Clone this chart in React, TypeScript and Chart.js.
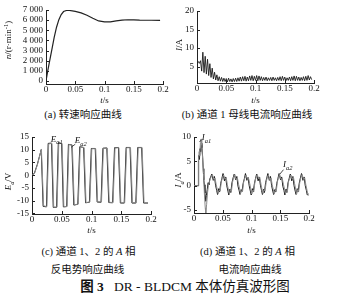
import React, { useEffect, useRef } from 'react';
import { Chart, registerables } from 'chart.js';

Chart.register(...registerables);

const SERIF = '"Liberation Serif", "DejaVu Serif", serif';
const CJK = '"Liberation Serif", "Noto Sans CJK SC", serif';

// ---------- shared x axis ----------
const X_TICKS = [0, 0.05, 0.1, 0.15, 0.2];
const X_TICK_LABELS = ['0', '0.05', '0.1', '0.15', '0.2'];

// ---------- (a) speed ----------
const A_Y_TICKS = [0, 1000, 2000, 3000, 4000, 5000, 6000, 7000];
const A_Y_LABELS = ['0', '1 000', '2 000', '3 000', '4 000', '5 000', '6 000', '7 000'];
const A_T = [0, 0.003, 0.006, 0.01, 0.014, 0.018, 0.022, 0.026, 0.03, 0.035, 0.04, 0.045, 0.05, 0.06, 0.07, 0.08, 0.09, 0.1, 0.11, 0.12, 0.13, 0.14, 0.15, 0.16, 0.18, 0.195];
const A_N = [0, 1000, 1900, 3100, 4300, 5300, 6050, 6550, 6850, 6950, 6950, 6920, 6870, 6720, 6480, 6180, 5920, 5820, 5830, 5930, 6010, 6040, 6020, 6000, 5990, 5980];

// ---------- (b) bus current, channel 1 ----------
const B_Y_TICKS = [5, 10, 15, 20];
const B_Y_LABELS = ['5', '10', '15', '20'];
const B_T = [0, 0.002, 0.004, 0.006, 0.008, 0.01, 0.012, 0.014, 0.016, 0.018, 0.02, 0.022, 0.024, 0.026, 0.028, 0.03, 0.032, 0.034, 0.036, 0.038, 0.04, 0.042, 0.044, 0.046, 0.048, 0.05, 0.052, 0.054, 0.056, 0.058, 0.06, 0.062, 0.064, 0.066, 0.068, 0.07, 0.072, 0.074, 0.076, 0.078, 0.08, 0.082, 0.084, 0.086, 0.088, 0.09, 0.092, 0.094, 0.096, 0.098, 0.1, 0.102, 0.104, 0.106, 0.108, 0.11, 0.112, 0.114, 0.116, 0.118, 0.12, 0.122, 0.124, 0.126, 0.128, 0.13, 0.132, 0.134, 0.136, 0.138, 0.14, 0.142, 0.144, 0.146, 0.148, 0.15, 0.152, 0.154, 0.156, 0.158, 0.16, 0.162, 0.164, 0.166, 0.168, 0.17, 0.172, 0.174, 0.176, 0.178, 0.18, 0.182, 0.184, 0.186, 0.188, 0.19, 0.192, 0.194, 0.196];
const B_I = [
  6.0, 6.4, 5.9, 6.6, 3.8, 8.9, 3.4, 7.8, 3.0, 7.0,
  2.6, 5.8, 2.1, 4.6, 1.7, 3.5, 1.4, 2.8, 1.2, 2.3,
  1.1, 2.1, 1.0, 1.9, 1.0, 1.8, 0.9, 1.9, 1.0, 1.7,
  0.9, 1.8, 1.0, 1.9, 1.0, 2.0, 1.1, 2.2, 1.1, 2.3,
  1.2, 2.4, 1.1, 2.2, 1.2, 2.5, 1.3, 2.6, 1.2, 2.4,
  1.3, 2.6, 1.2, 2.5, 1.3, 2.3, 1.2, 2.1, 1.3, 2.2,
  1.2, 2.0, 1.3, 2.1, 1.2, 2.2, 1.3, 2.0, 1.2, 2.1,
  1.3, 2.3, 1.2, 2.4, 1.3, 2.2, 1.2, 2.0, 1.3, 2.2,
  1.2, 2.3, 1.3, 2.5, 1.2, 2.4, 1.3, 2.2, 1.2, 2.1,
  1.3, 2.3, 1.2, 2.4, 1.3, 2.6, 1.4, 2.3, 1.5,
];

// ---------- (c) back EMF, phase A, channels 1 and 2 ----------
const C_Y_TICKS = [-15, -10, -5, 0, 5, 10, 15];
const C_Y_LABELS = ['-15', '-10', '-5', '0', '5', '10', '15'];
const EA1_T = [0, 0.004, 0.009, 0.0155, 0.0187, 0.0243, 0.0272, 0.0328, 0.0357, 0.0413, 0.0442, 0.0498, 0.0527, 0.0583, 0.0612, 0.067, 0.0702, 0.077, 0.0802, 0.0868, 0.09, 0.0965, 0.0997, 0.1063, 0.1095, 0.116, 0.1192, 0.1258, 0.129, 0.1355, 0.1387, 0.1453, 0.1485, 0.155, 0.1582, 0.1648, 0.168, 0.1745, 0.1777, 0.1843, 0.1875, 0.195];
const EA1_V = [0, 0.8, 4.3, 10.0, -12.2, -12.4, 12.5, 12.6, -12.6, -12.6, 12.6, 12.5, -12.4, -12.3, 12.1, 11.9, -11.7, -11.4, 11.2, 10.9, -10.8, -10.6, 10.5, 10.5, -10.5, -10.6, 10.6, 10.7, -10.7, -10.8, 10.8, 10.9, -10.9, -10.9, 10.9, 10.9, -10.9, -10.9, 10.9, 10.9, -10.9, -10.9];
const EA2_T = [0, 0.004, 0.009, 0.0158, 0.0195, 0.0251, 0.028, 0.0336, 0.0365, 0.0421, 0.045, 0.0506, 0.0535, 0.0591, 0.062, 0.0678, 0.071, 0.0778, 0.081, 0.0876, 0.0908, 0.0973, 0.1005, 0.1071, 0.1103, 0.1168, 0.12, 0.1266, 0.1298, 0.1363, 0.1395, 0.1461, 0.1493, 0.1558, 0.159, 0.1656, 0.1688, 0.1753, 0.1785, 0.1851, 0.1883, 0.195];
const EA2_V = [0, 0.6, 4.0, 10.3, -12.0, -12.3, 12.3, 12.5, -12.5, -12.5, 12.5, 12.4, -12.3, -12.2, 12.0, 11.8, -11.6, -11.3, 11.1, 10.8, -10.7, -10.5, 10.4, 10.4, -10.4, -10.5, 10.5, 10.6, -10.6, -10.7, 10.7, 10.8, -10.8, -10.8, 10.8, 10.8, -10.8, -10.8, 10.8, 10.8, -10.8, -10.8];

// ---------- (d) phase A current, channels 1 and 2 ----------
const D_Y_TICKS = [-5, 0, 5, 10];
const D_Y_LABELS = ['-5', '0', '5', '10'];
const IA1_T = [
  0, 0.0075, 0.0076, 0.0085, 0.0095, 0.0105, 0.0115, 0.0128, 0.0138, 0.015, 0.016, 0.017, 0.018, 0.019, 0.0205, 0.0215, 0.023, 0.0245, 0.026, 0.0275, 0.029, 0.031,
  0.0335, 0.0355, 0.0375, 0.0395, 0.041, 0.043, 0.0445, 0.0465, 0.0485, 0.0505,
  0.053, 0.055, 0.057, 0.059, 0.0605, 0.0625, 0.064, 0.066, 0.068, 0.07,
  0.0725, 0.0745, 0.0765, 0.0785, 0.08, 0.082, 0.0835, 0.0855, 0.0875, 0.0895,
  0.092, 0.094, 0.096, 0.098, 0.0995, 0.1015, 0.103, 0.105, 0.107, 0.109,
  0.1115, 0.1135, 0.1155, 0.1175, 0.119, 0.121, 0.1225, 0.1245, 0.1265, 0.1285,
  0.131, 0.133, 0.135, 0.137, 0.1385, 0.1405, 0.142, 0.144, 0.146, 0.148,
  0.1505, 0.1525, 0.1545, 0.1565, 0.158, 0.16, 0.1615, 0.1635, 0.1655, 0.1675,
  0.17, 0.172, 0.174, 0.176, 0.1775, 0.1795, 0.181, 0.183, 0.185, 0.187,
  0.1895, 0.1915, 0.1935, 0.1955, 0.197, 0.199,
];
const IA1_V = [
  0, 0, 4.6, 6.2, 5.4, 7.6, 7.0, 8.7, 7.8, 6.0, 3.5, 1.2, 0.2, -1.5, -3.2, -2.0, -0.8, 0.6, 0.2, 1.4, 1.8, 2.4,
  1.1, 1.9, 0.1, -1.0, -1.8, -0.6, -1.3, 0.5, 1.5, 2.5,
  1.0, 1.8, 0.0, -1.1, -1.9, -0.7, -1.4, 0.6, 1.6, 2.4,
  1.2, 1.9, -0.1, -1.0, -1.8, -0.8, -1.2, 0.5, 1.4, 2.5,
  1.1, 1.7, 0.0, -1.1, -1.9, -0.6, -1.3, 0.4, 1.5, 2.4,
  1.0, 1.8, 0.1, -1.0, -1.8, -0.7, -1.4, 0.6, 1.6, 2.5,
  1.1, 1.9, 0.0, -1.1, -1.8, -0.8, -1.3, 0.5, 1.5, 2.5,
  1.2, 1.8, -0.1, -1.0, -1.9, -0.7, -1.4, 0.6, 1.5, 2.4,
  1.0, 1.9, 0.0, -1.1, -1.8, -0.6, -1.3, 0.5, 1.6, 2.5,
  1.1, 1.8, 0.0, -1.0, -1.9, -1.7,
];
const IA2_T = [
  0, 0.0075, 0.0076, 0.009, 0.01, 0.0112, 0.0122, 0.0135, 0.015, 0.0165, 0.018, 0.0195, 0.0205, 0.022, 0.0235, 0.025, 0.027, 0.029, 0.032,
  0.0345, 0.0365, 0.0385, 0.0405, 0.042, 0.044, 0.0455, 0.0475, 0.0495, 0.0515,
  0.054, 0.056, 0.058, 0.06, 0.0615, 0.0635, 0.065, 0.067, 0.069, 0.071,
  0.0735, 0.0755, 0.0775, 0.0795, 0.081, 0.083, 0.0845, 0.0865, 0.0885, 0.0905,
  0.093, 0.095, 0.097, 0.099, 0.1005, 0.1025, 0.104, 0.106, 0.108, 0.11,
  0.1125, 0.1145, 0.1165, 0.1185, 0.12, 0.122, 0.1235, 0.1255, 0.1275, 0.1295,
  0.132, 0.134, 0.136, 0.138, 0.1395, 0.1415, 0.143, 0.145, 0.147, 0.149,
  0.1515, 0.1535, 0.1555, 0.1575, 0.159, 0.161, 0.1625, 0.1645, 0.1665, 0.1685,
  0.171, 0.173, 0.175, 0.177, 0.1785, 0.1805, 0.182, 0.184, 0.186, 0.188,
  0.1905, 0.1925, 0.1945, 0.1965, 0.198, 0.2,
];
const IA2_V = [
  0, 0, 5.0, 7.0, 6.2, 8.9, 9.6, 8.3, 5.5, 2.5, -1.5, -4.5, -5.6, -3.8, -1.5, 0.0, 0.9, 1.6, 2.3,
  1.3, 1.6, 0.3, -0.8, -1.6, -0.9, -1.1, 0.8, 1.7, 2.2,
  1.4, 1.7, 0.2, -0.9, -1.7, -0.8, -1.2, 0.7, 1.8, 2.3,
  1.2, 1.6, 0.3, -0.7, -1.6, -1.0, -1.1, 0.9, 1.6, 2.2,
  1.3, 1.5, 0.4, -0.8, -1.7, -0.9, -1.2, 0.8, 1.7, 2.3,
  1.4, 1.7, 0.3, -0.9, -1.6, -0.8, -1.1, 0.7, 1.8, 2.2,
  1.2, 1.6, 0.2, -0.8, -1.7, -0.9, -1.2, 0.8, 1.7, 2.3,
  1.3, 1.5, 0.3, -0.7, -1.6, -1.0, -1.1, 0.9, 1.6, 2.2,
  1.4, 1.7, 0.4, -0.8, -1.7, -0.8, -1.2, 0.7, 1.7, 2.3,
  1.3, 1.6, 0.2, -0.9, -1.8, -2.0,
];

// ---------- helpers ----------
type Seg = { t: string; it?: boolean; sub?: boolean; sup?: boolean };

function drawRich(ctx: any, segs: Seg[], x: number, y: number, size: number, opt: any = {}) {
  ctx.save();
  ctx.translate(x, y);
  if (opt.rotate) ctx.rotate(opt.rotate);
  const fontFor = (s: Seg) => `${s.it ? 'italic ' : ''}${s.sub || s.sup ? size * 0.72 : size}px ${SERIF}`;
  let total = 0;
  const widths = segs.map((s) => {
    ctx.font = fontFor(s);
    const w = ctx.measureText(s.t).width;
    total += w;
    return w;
  });
  let cx = opt.align === 'left' ? 0 : -total / 2;
  const base = opt.baseline ? 0 : size * 0.33;
  ctx.textBaseline = 'alphabetic';
  ctx.textAlign = 'left';
  ctx.fillStyle = '#111';
  segs.forEach((s, i) => {
    ctx.font = fontFor(s);
    const dy = s.sub ? size * 0.3 : s.sup ? -size * 0.4 : 0;
    ctx.fillText(s.t, cx, base + dy);
    cx += widths[i];
  });
  ctx.restore();
}

function labelFor(ticks: number[], labels: string[], v: number) {
  const i = ticks.findIndex((t) => Math.abs(t - v) < 1e-9);
  return i >= 0 ? labels[i] : '';
}

function series(ts: number[], vs: number[]) {
  return ts.map((t, i) => ({ x: t, y: vs[i] }));
}

function decorPlugin(d: any) {
  return {
    id: 'decor',
    afterDraw(chart: any) {
      const { ctx, chartArea: ca, scales } = chart;
      const xs = scales.x;
      const ys = scales.y;
      ctx.save();
      ctx.strokeStyle = '#222';
      ctx.lineWidth = 1;
      ctx.beginPath();
      xs.ticks.forEach((tk: any) => {
        const px = Math.round(xs.getPixelForValue(tk.value)) + 0.5;
        ctx.moveTo(px, ca.bottom);
        ctx.lineTo(px, ca.bottom - 3);
      });
      ys.ticks.forEach((tk: any) => {
        const py = Math.round(ys.getPixelForValue(tk.value)) + 0.5;
        ctx.moveTo(ca.left, py);
        ctx.lineTo(ca.left + 3, py);
      });
      ctx.stroke();
      // leader lines
      ctx.lineWidth = 0.8;
      ctx.beginPath();
      (d.leaders || []).forEach((l: number[]) => {
        ctx.moveTo(xs.getPixelForValue(l[0]), ys.getPixelForValue(l[1]));
        ctx.lineTo(xs.getPixelForValue(l[2]), ys.getPixelForValue(l[3]));
      });
      ctx.stroke();
      ctx.restore();
      // axis titles
      drawRich(ctx, d.xTitle, (ca.left + ca.right) / 2, d.xTitleY, 9);
      drawRich(ctx, d.yTitle, d.yTitleX, d.yTitleY, 9, { rotate: -Math.PI / 2 });
      // in-plot notes
      (d.notes || []).forEach((n: any) => {
        drawRich(ctx, n.segs, xs.getPixelForValue(n.t), ys.getPixelForValue(n.v), 9, { align: 'left', baseline: true });
      });
    },
  };
}

function makeChart(canvas: HTMLCanvasElement, o: any) {
  return new Chart(canvas, {
    type: 'line',
    data: { datasets: o.datasets },
    options: {
      responsive: false,
      animation: false,
      events: [],
      layout: { padding: { left: 0, top: o.padTop, right: o.padRight, bottom: 0 } },
      plugins: { legend: { display: false }, tooltip: { enabled: false } },
      elements: { point: { radius: 0 }, line: { tension: 0 } },
      scales: {
        x: {
          type: 'linear',
          min: 0,
          max: 0.2,
          grid: { display: false, drawTicks: false, tickLength: 0 },
          border: { display: true, color: '#222', width: 1 },
          ticks: {
            autoSkip: false,
            maxRotation: 0,
            padding: 0,
            color: '#111',
            font: { family: SERIF, size: 9 },
            callback: (v: any) => labelFor(X_TICKS, X_TICK_LABELS, Number(v)),
          },
          afterBuildTicks: (s: any) => {
            s.ticks = X_TICKS.map((v) => ({ value: v }));
          },
          afterFit: (s: any) => {
            s.height = o.xHeight;
          },
        },
        y: {
          type: 'linear',
          min: o.yMin,
          max: o.yMax,
          grid: { display: false, drawTicks: false, tickLength: 0 },
          border: { display: true, color: '#222', width: 1 },
          ticks: {
            autoSkip: false,
            padding: 3,
            color: '#111',
            font: { family: SERIF, size: 9 },
            callback: (v: any) => labelFor(o.yTicks, o.yLabels, Number(v)),
          },
          afterBuildTicks: (s: any) => {
            s.ticks = o.yTicks.map((v: number) => ({ value: v }));
          },
          afterFit: (s: any) => {
            s.width = o.yWidth;
          },
        },
      },
    },
    plugins: [decorPlugin(o.decor)],
  } as any);
}

const X_TITLE: Seg[] = [{ t: 't', it: true }, { t: '/s' }];

const capStyle = (cx: number, cy: number, size: number): any => ({
  position: 'absolute',
  left: cx,
  top: cy,
  transform: 'translate(-50%, -50%)',
  whiteSpace: 'nowrap',
  fontFamily: CJK,
  fontSize: size,
  lineHeight: 1,
  color: '#111',
});

export default function App() {
  const refA = useRef<HTMLCanvasElement>(null);
  const refB = useRef<HTMLCanvasElement>(null);
  const refC = useRef<HTMLCanvasElement>(null);
  const refD = useRef<HTMLCanvasElement>(null);

  useEffect(() => {
    const charts: any[] = [];
    charts.push(
      makeChart(refA.current!, {
        datasets: [{ data: series(A_T, A_N), borderColor: '#222', borderWidth: 1.2, pointRadius: 0 }],
        yMin: -300, yMax: 7000, yTicks: A_Y_TICKS, yLabels: A_Y_LABELS,
        yWidth: 46, xHeight: 22, padTop: 10, padRight: 9,
        decor: {
          xTitle: X_TITLE, xTitleY: 100.5,
          yTitle: [{ t: 'n', it: true }, { t: '/(r·min' }, { t: '-1', sup: true }, { t: ')' }],
          yTitleX: 8.5, yTitleY: 40,
        },
      })
    );
    charts.push(
      makeChart(refB.current!, {
        datasets: [{ data: series(B_T, B_I), borderColor: '#1a1a1a', borderWidth: 0.9, pointRadius: 0 }],
        yMin: 0.6, yMax: 20, yTicks: B_Y_TICKS, yLabels: B_Y_LABELS,
        yWidth: 25, xHeight: 23, padTop: 11, padRight: 29,
        decor: {
          xTitle: X_TITLE, xTitleY: 100.5,
          yTitle: [{ t: 'I', it: true }, { t: '/A' }],
          yTitleX: 7.5, yTitleY: 45,
        },
      })
    );
    charts.push(
      makeChart(refC.current!, {
        datasets: [
          { data: series(EA2_T, EA2_V), borderColor: '#8a8a8a', borderWidth: 1, pointRadius: 0 },
          { data: series(EA1_T, EA1_V), borderColor: '#1a1a1a', borderWidth: 1, pointRadius: 0 },
        ],
        yMin: -15.2, yMax: 15, yTicks: C_Y_TICKS, yLabels: C_Y_LABELS,
        yWidth: 32, xHeight: 24, padTop: 15, padRight: 21,
        decor: {
          xTitle: X_TITLE, xTitleY: 108.5,
          yTitle: [{ t: 'E', it: true }, { t: 'a', it: true, sub: true }, { t: '/V' }],
          yTitleX: 8.5, yTitleY: 59.5,
          notes: [
            { segs: [{ t: 'E', it: true }, { t: 'a1', it: true, sub: true }], t: 0.0314, v: 13.2 },
            { segs: [{ t: 'E', it: true }, { t: 'a2', it: true, sub: true }], t: 0.0718, v: 12.5 },
          ],
          leaders: [
            [0.0445, 12.9, 0.0475, 12.5],
            [0.0728, 12.2, 0.066, 11.0],
          ],
        },
      })
    );
    charts.push(
      makeChart(refD.current!, {
        datasets: [
          { data: series(IA2_T, IA2_V), borderColor: '#8a8a8a', borderWidth: 1, pointRadius: 0 },
          { data: series(IA1_T, IA1_V), borderColor: '#1a1a1a', borderWidth: 1, pointRadius: 0 },
        ],
        yMin: -5.6, yMax: 10, yTicks: D_Y_TICKS, yLabels: D_Y_LABELS,
        yWidth: 22, xHeight: 25, padTop: 15, padRight: 34,
        decor: {
          xTitle: X_TITLE, xTitleY: 108.5,
          yTitle: [{ t: 'I', it: true }, { t: 'a', it: true, sub: true }, { t: '/A' }],
          yTitleX: 6.5, yTitleY: 58,
          notes: [
            { segs: [{ t: 'I', it: true }, { t: 'a1', it: true, sub: true }], t: 0.0135, v: 9.3 },
            { segs: [{ t: 'I', it: true }, { t: 'a2', it: true, sub: true }], t: 0.1547, v: 3.8 },
          ],
          leaders: [
            [0.0095, 9.0, 0.0128, 9.4],
            [0.1557, 3.3, 0.1495, 2.4],
          ],
        },
      })
    );
    return () => charts.forEach((c) => c.destroy());
  }, []);

  return (
    <div style={{ position: 'fixed', left: 0, top: 0, width: 343, height: 303, background: '#fff', overflow: 'hidden' }}>
      <canvas ref={refA} width={172} height={106} style={{ position: 'absolute', left: 0, top: 0 }} />
      <canvas ref={refB} width={171} height={106} style={{ position: 'absolute', left: 172, top: 0 }} />
      <canvas ref={refC} width={172} height={116} style={{ position: 'absolute', left: 0, top: 122 }} />
      <canvas ref={refD} width={171} height={116} style={{ position: 'absolute', left: 172, top: 122 }} />
      <div style={capStyle(83, 115, 10.5)}>(a) 转速响应曲线</div>
      <div style={capStyle(247, 115, 10.5)}>(b) 通道 1 母线电流响应曲线</div>
      <div style={capStyle(88.5, 252, 10.5)}>(c) 通道 1、2 的 <i>A</i> 相</div>
      <div style={capStyle(87.5, 269.5, 10.5)}>反电势响应曲线</div>
      <div style={capStyle(247.5, 252, 10.5)}>(d) 通道 1、2 的 <i>A</i> 相</div>
      <div style={capStyle(250, 269.5, 10.5)}>电流响应曲线</div>
      <div style={capStyle(185, 287, 13.5)}>
        <b>图 3</b>&nbsp;&nbsp;&nbsp;DR - BLDCM 本体仿真波形图
      </div>
    </div>
  );
}
